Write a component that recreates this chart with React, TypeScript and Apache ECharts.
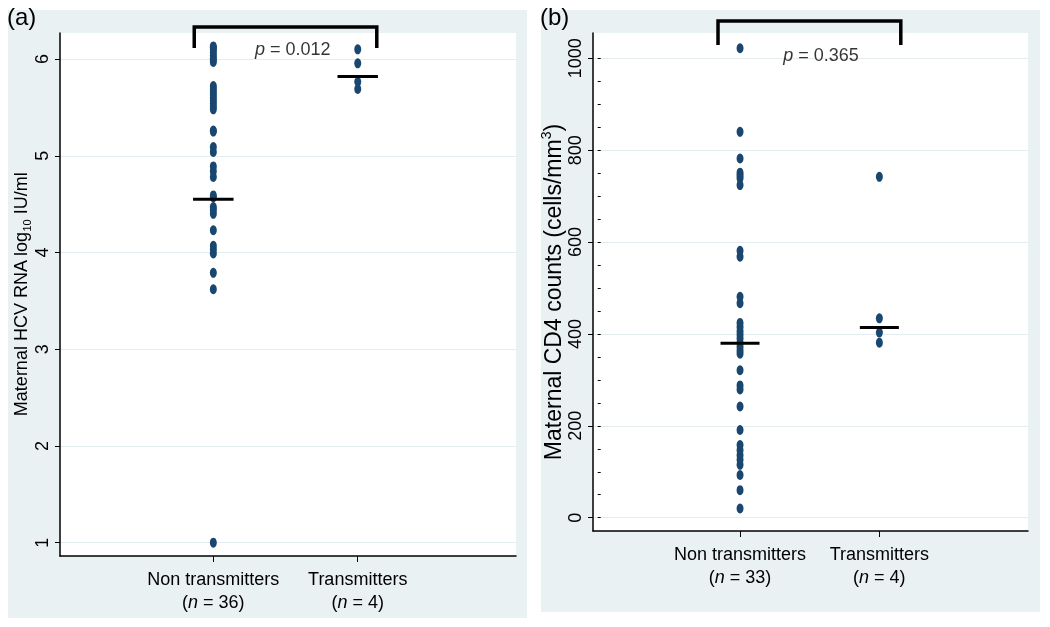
import React, { useEffect, useRef } from "react";
import * as echarts from "echarts";

// ---------- data ----------
const groups = ["Non transmitters", "Transmitters"];
const groupX = [1, 2];
const nHcv = [36, 4];
const nCd4 = [33, 4];

const hcvNonTransmitters = [
  6.13, 6.12, 6.1, 6.07, 6.04, 6.01, 5.99, 5.97,
  5.72, 5.69, 5.66, 5.63, 5.6, 5.57, 5.54, 5.51, 5.48,
  5.26, 5.25, 5.09, 5.04, 4.89, 4.84, 4.78, 4.59, 4.57,
  4.47, 4.44, 4.4, 4.23, 4.07, 4.03, 3.99, 3.79, 3.62, 1.0,
];
const hcvTransmitters = [6.1, 5.955, 5.765, 5.69];
const hcvMedians = [4.55, 5.82];
const hcvTicks = [1, 2, 3, 4, 5, 6];
const hcvP = "0.012";

const cd4NonTransmitters = [
  1022, 840, 782, 751, 745, 739, 724, 581, 568, 481, 467,
  424, 415, 406, 398, 390, 381, 372, 364, 357, 321, 288, 279,
  242, 191, 158, 147, 136, 126, 115, 93, 60, 20,
];
const cd4Transmitters = [742, 434, 403, 381];
const cd4Medians = [380, 414];
const cd4Ticks = [0, 200, 400, 600, 800, 1000];
const cd4MinorTicks = [
  0, 50, 100, 150, 200, 250, 300, 350, 400, 450, 500,
  550, 600, 650, 700, 750, 800, 850, 900, 950, 1000,
];
const cd4P = "0.365";

// ---------- styling / layout ----------
const FONT = "'Liberation Sans', Arial, Helvetica, sans-serif";
const DOT = "#1a476f";
const PANEL_BG = "#eaf1f3";
const GRID_LINE = "#e4ecef";
const HALF = 0.14; // half width of median bars (x units)

const axisX = (grid: number, min: number, max: number, nArr: number[]) => ({
  type: "value",
  gridIndex: grid,
  min,
  max,
  axisLine: { show: true, onZero: false, lineStyle: { color: "#000", width: 1.5 } },
  axisTick: { show: true, customValues: groupX, length: 6, lineStyle: { color: "#000", width: 1 } },
  axisLabel: {
    show: true,
    customValues: groupX,
    margin: 11,
    formatter: (v: number) => {
      const k = Math.round(v) - 1;
      return `{t|${groups[k]}}\n{t|(}{i|n}{t| = ${nArr[k]})}`;
    },
    rich: {
      t: { fontSize: 18, fontFamily: FONT, color: "#000", lineHeight: 23 },
      i: { fontSize: 18, fontFamily: FONT, color: "#000", fontStyle: "italic", lineHeight: 23 },
    },
  },
  splitLine: { show: false },
});

const axisY = (
  grid: number,
  min: number,
  max: number,
  ticks: number[],
  name: string,
  nameGap: number,
  rich: any,
  padding: number[]
) => ({
  type: "value",
  gridIndex: grid,
  position: "left",
  min,
  max,
  name,
  nameLocation: "middle",
  nameRotate: 90,
  nameGap,
  nameTextStyle: { rich, padding },
  axisLine: { show: true, onZero: false, lineStyle: { color: "#000", width: 1.5 } },
  axisTick: { show: true, customValues: ticks, length: 5, lineStyle: { color: "#000", width: 1 } },
  axisLabel: {
    show: true,
    customValues: ticks,
    rotate: 90,
    margin: 9,
    fontSize: 18,
    fontFamily: FONT,
    color: "#000",
    formatter: (v: number) => String(v),
  },
  splitLine: { show: true, lineStyle: { color: GRID_LINE, width: 1.2 } },
});

const dots = (xi: number, yi: number, x: number, vals: number[]) => ({
  type: "scatter",
  xAxisIndex: xi,
  yAxisIndex: yi,
  symbol: "circle",
  symbolSize: [7, 10],
  itemStyle: { color: DOT, opacity: 1 },
  data: vals.map((v) => [x, v]),
  z: 3,
  silent: true,
});

const median = (xi: number, yi: number, x: number, m: number) => ({
  type: "line",
  xAxisIndex: xi,
  yAxisIndex: yi,
  symbol: "none",
  lineStyle: { color: "#000", width: 3 },
  data: [
    [x - HALF, m],
    [x + HALF, m],
  ],
  z: 5,
  silent: true,
});

const bracket = (xi: number, yi: number, x0: number, x1: number, yLow: number, yTop: number) => ({
  type: "line",
  xAxisIndex: xi,
  yAxisIndex: yi,
  symbol: "none",
  clip: false,
  lineStyle: { color: "#000", width: 3.5, join: "miter", cap: "butt" },
  data: [
    [x0, yLow],
    [x0, yTop],
    [x1, yTop],
    [x1, yLow],
  ],
  z: 5,
  silent: true,
});

const pLabel = (xi: number, yi: number, x: number, y: number, p: string) => ({
  type: "scatter",
  xAxisIndex: xi,
  yAxisIndex: yi,
  symbolSize: 1,
  itemStyle: { color: "rgba(0,0,0,0)" },
  silent: true,
  z: 6,
  data: [[x, y]],
  label: {
    show: true,
    position: "inside",
    formatter: `{i|p}{t| = ${p}}`,
    rich: {
      t: { fontSize: 18, fontFamily: FONT, color: "#000" },
      i: { fontSize: 18, fontFamily: FONT, color: "#000", fontStyle: "italic" },
    },
  },
});

export default function App() {
  const ref = useRef<HTMLDivElement>(null);

  useEffect(() => {
    if (!ref.current) return;
    const chart = echarts.init(ref.current, undefined, { renderer: "svg" });

    const nameRichA = {
      n: { fontSize: 18, fontFamily: FONT, color: "#000", lineHeight: 22 },
      sub: { fontSize: 11, fontFamily: FONT, color: "#000", verticalAlign: "bottom" },
    };
    const nameRichB = {
      n: { fontSize: 23, fontFamily: FONT, color: "#000", lineHeight: 27 },
      sup: { fontSize: 14, fontFamily: FONT, color: "#000", verticalAlign: "top" },
    };

    const option: any = {
      animation: false,
      backgroundColor: "transparent",
      graphic: {
        elements: [
          { type: "rect", z: -100, shape: { x: 8, y: 10, width: 519, height: 608 }, style: { fill: PANEL_BG } },
          { type: "rect", z: -100, shape: { x: 541, y: 10, width: 499, height: 602 }, style: { fill: PANEL_BG } },
          { type: "text", z: 100, x: 7, y: 4, style: { text: "(a)", font: `24px ${FONT}`, fill: "#000" } },
          { type: "text", z: 100, x: 540, y: 4, style: { text: "(b)", font: `24px ${FONT}`, fill: "#000" } },
        ],
      },
      grid: [
        { left: 60, top: 33, width: 456, height: 523, show: true, backgroundColor: "#fff", borderWidth: 0, outerBoundsMode: "none" },
        { left: 593, top: 33, width: 435, height: 498, show: true, backgroundColor: "#fff", borderWidth: 0, outerBoundsMode: "none" },
      ],
      xAxis: [axisX(0, -0.0616, 3.096, nHcv), axisX(1, -0.0553, 3.067, nCd4)],
      yAxis: [
        axisY(0, 0.8625, 6.269, hcvTicks, "{n|Maternal HCV RNA log}{sub|10}{n| IU/ml}", 24, nameRichA, [0, 0, 0, 0]),
        axisY(1, -28.95, 1055.1, cd4Ticks, "{n|Maternal CD4 counts (cells/mm}{sup|3}{n|)}", 27, nameRichB, [0, 20, 0, 0]),
        {
          type: "value",
          gridIndex: 1,
          position: "left",
          offset: 0,
          min: -28.95,
          max: 1055.1,
          axisLine: { show: false },
          axisTick: { show: true, customValues: cd4MinorTicks, length: 3, lineStyle: { color: "#000", width: 1 } },
          axisLabel: { show: false },
          splitLine: { show: false },
        },
      ],
      series: [
        dots(0, 0, groupX[0], hcvNonTransmitters),
        dots(0, 0, groupX[1], hcvTransmitters),
        median(0, 0, groupX[0], hcvMedians[0]),
        median(0, 0, groupX[1], hcvMedians[1]),
        bracket(0, 0, groupX[0] - 0.132, groupX[1] + 0.132, 6.114, 6.331),
        pLabel(0, 0, 1.55, 6.1, hcvP),
        dots(1, 1, groupX[0], cd4NonTransmitters),
        dots(1, 1, groupX[1], cd4Transmitters),
        median(1, 1, groupX[0], cd4Medians[0]),
        median(1, 1, groupX[1], cd4Medians[1]),
        bracket(1, 1, groupX[0] - 0.158, groupX[1] + 0.154, 1029, 1081),
        pLabel(1, 1, 1.581, 1007, cd4P),
      ],
    };

    chart.setOption(option);
    return () => chart.dispose();
  }, []);

  return (
    <div
      ref={ref}
      style={{ position: "fixed", left: 0, top: 0, width: 1050, height: 627 }}
    />
  );
}
